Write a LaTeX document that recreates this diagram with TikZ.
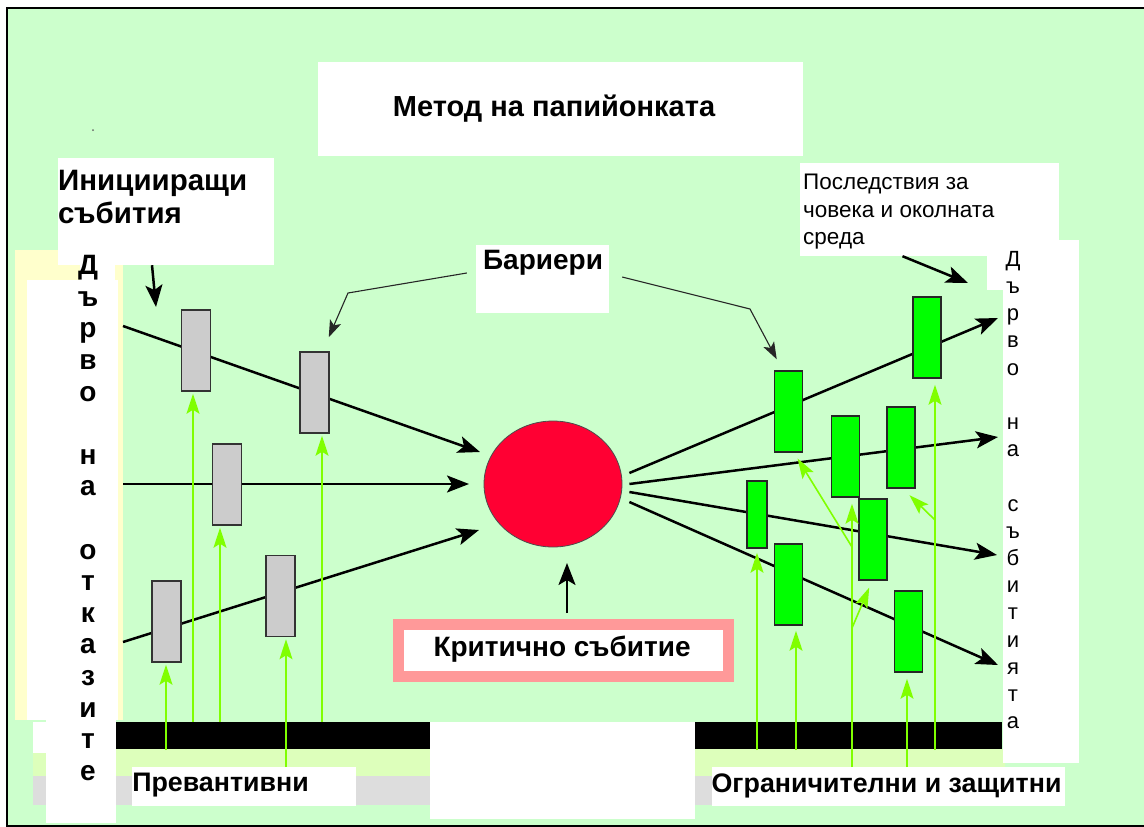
\documentclass[tikz,border=0pt]{standalone}
\usepackage{fontspec}
\setmainfont{Liberation Sans}
\usetikzlibrary{arrows.meta,shapes.geometric}

\definecolor{bggreen}{HTML}{CCFFCC}
\definecolor{paleyellow}{HTML}{FFFFCC}
\definecolor{paleband}{HTML}{DDFFBB}
\definecolor{grayband}{HTML}{DDDDDD}
\definecolor{barriergray}{HTML}{CCCCCC}
\definecolor{barriergreen}{HTML}{00FF00}
\definecolor{eventred}{HTML}{FF0033}
\definecolor{critpink}{HTML}{FF9999}
\definecolor{arrowgreen}{HTML}{80FF00}

\newcommand{\bowtitle}{\fontsize{29}{34}\selectfont\bfseries}
\newcommand{\bowlabel}{\fontsize{28}{33}\selectfont\bfseries}
\newcommand{\bowinit}{\fontsize{29.5}{32.5}\selectfont\bfseries}
\newcommand{\bowfoot}{\fontsize{26.8}{31}\selectfont\bfseries}
\newcommand{\bownote}{\fontsize{22.5}{27.5}\selectfont}
\newcommand{\bowleft}{\fontsize{28}{31.6}\selectfont\bfseries}
\newcommand{\bowright}{\fontsize{22}{27.2}\selectfont}

\tikzset{
  whitebox/.style={fill=white, inner sep=0},
  mainarrow/.style={line width=2.5pt, -{Stealth[length=22pt,width=17pt,inset=5pt]}},
  leadarrow/.style={line width=1.1pt, draw=black!85, -{Stealth[length=17pt,width=12pt,inset=4pt]}},
  garrow/.style={line width=1.6pt, draw=arrowgreen, shorten >=2pt, -{Stealth[length=20pt,width=13pt,inset=4pt]}},
  graybar/.style={draw=black!80, line width=1.5pt, fill=barriergray, minimum width=29pt, minimum height=81pt, inner sep=0},
  greenbar/.style={draw=black!85, line width=1.5pt, fill=barriergreen, minimum width=28pt, minimum height=81pt, inner sep=0}
}

\begin{document}
\begin{tikzpicture}[x=1pt,y=-1pt]
    \useasboundingbox (0,0) rectangle (1144,827);

    % Background and frame
    \fill[bggreen] (7,8) rectangle (1144,826);
    \draw[line width=1.3pt] (1144,8) -- (7,8) -- (7,826) -- (1144,826);
    \fill[black!60] (93,130) circle (1);

    % Left column behind the fault tree text
    \fill[paleyellow] (15,250) rectangle (123,720);
    \fill[white] (27,280) rectangle (118,720);
    \fill[white] (80,250) rectangle (115,280);

    % White boxes behind the labels
    \node[whitebox, minimum width=485pt, minimum height=94pt] (titleBox) at (560.5,109) {};
    \node[whitebox, minimum width=216pt, minimum height=107pt] (initBox) at (166,211.5) {};
    \node[whitebox, minimum width=133pt, minimum height=68pt] (barrBox) at (542.5,279) {};
    \node[whitebox, minimum width=259pt, minimum height=93pt] (conseqBox) at (929.5,209.5) {};

    % Bottom bands
    \fill[paleband] (33,749) rectangle (1005,776);
    \fill[grayband] (33,776) rectangle (1005,805);
    \fill[black] (116,722) rectangle (430,749);
    \fill[black] (695,722) rectangle (1002,749);
    \fill[white] (33,722) rectangle (116,753);
    \fill[white] (46,720) rectangle (116,823);
    \fill[white] (430,722) rectangle (695,819);
    \node[whitebox, minimum width=224pt, minimum height=39pt] (prevBox) at (244,786.5) {};
    \node[whitebox, minimum width=353pt, minimum height=39pt] (limitBox) at (888.5,786.5) {};

    % Right column behind the event tree text
    \fill[white] (987,240) rectangle (1079,290);
    \fill[white] (1003,288) rectangle (1079,763);

    % Critical event box
    \node[draw=critpink, line width=11pt, fill=white, minimum width=330pt, minimum height=52pt, inner sep=0] (crit) at (563.5,650.5) {};

    % Free ends of the main arrows
    \coordinate (fL1) at (123,326);
    \coordinate (fL2) at (123,484);
    \coordinate (fL3) at (123,642);
    \coordinate (tL1) at (480,452);
    \coordinate (tL2) at (469,484);
    \coordinate (tL3) at (479,530);
    \coordinate (tR1) at (998,318);
    \coordinate (tR2) at (998,437);
    \coordinate (tR3) at (997,555);
    \coordinate (tR4) at (998,665);

    % The critical event
    \node[ellipse, draw=black!70, line width=0.8pt, fill=eventred, minimum width=138pt, minimum height=126pt, inner sep=0] (event) at (553,484) {};

    % Causes and consequences
    \draw[mainarrow] (fL1) -- (tL1);
    \draw[mainarrow] (fL2) -- (tL2);
    \draw[mainarrow] (fL3) -- (tL3);
    \draw[mainarrow] ([shift={(7,-11)}]event.east) -- (tR1);
    \draw[mainarrow] ([shift={(7,0)}]event.east) -- (tR2);
    \draw[mainarrow] ([shift={(7,8)}]event.east) -- (tR3);
    \draw[mainarrow] ([shift={(7,18)}]event.east) -- (tR4);

    % Preventive barriers
    \node[graybar] (gb1) at (196,350.5) {};
    \node[graybar] (gb2) at (314.5,392.5) {};
    \node[graybar] (gb3) at (227,484.5) {};
    \node[graybar] (gb4) at (166.5,621.5) {};
    \node[graybar] (gb5) at (280.5,596) {};

    % Limiting and protective barriers
    \node[greenbar] (rb1) at (788.5,411.5) {};
    \node[greenbar] (rb2) at (845.5,456.5) {};
    \node[greenbar] (rb3) at (901,447.5) {};
    \node[greenbar] (rb4) at (927,337.5) {};
    \node[greenbar, minimum width=20pt, minimum height=67pt] (rb5) at (757,514.5) {};
    \node[greenbar] (rb6) at (788.5,584.5) {};
    \node[greenbar] (rb7) at (873,539.5) {};
    \node[greenbar] (rb8) at (908.5,631.5) {};

    % Green arrows, left
    \coordinate (pv1) at (166,750);
    \coordinate (pv2) at (193,722);
    \coordinate (pv3) at (220,722);
    \coordinate (pv4) at (286,767);
    \coordinate (pv5) at (322,722);
    \draw[garrow] (pv1) -- (pv1 |- gb4.south);
    \draw[garrow] (pv2) -- (pv2 |- gb1.south);
    \draw[garrow] (pv3) -- (pv3 |- gb3.south);
    \draw[garrow] (pv4) -- (pv4 |- gb5.south);
    \draw[garrow] (pv5) -- (pv5 |- gb2.south);

    % Green arrows, right
    \coordinate (lm1) at (757,750);
    \coordinate (lm2) at (796,750);
    \coordinate (lm3) at (852,767);
    \coordinate (lm4) at (907,767);
    \coordinate (lm5) at (935,750);
    \coordinate (br1) at (852,547);
    \coordinate (br2) at (852,628);
    \coordinate (br3) at (935,520);
    \draw[garrow, shorten >=4pt] (lm1) -- (lm1 |- rb5.south);
    \draw[garrow, shorten >=5pt] (lm2) -- (lm2 |- rb6.south);
    \draw[garrow, shorten >=6pt] (lm3) -- (lm3 |- rb2.south);
    \draw[garrow, shorten >=6pt] (lm4) -- (lm4 |- rb8.south);
    \draw[garrow, shorten >=6pt] (lm5) -- (lm5 |- rb4.south);
    \draw[garrow] (br1) -- ([xshift=8pt,yshift=-4pt]rb1.south);
    \draw[garrow] (br2) -- ([xshift=-3pt,yshift=-5pt]rb7.south);
    \draw[garrow] (br3) -- ([xshift=7pt,yshift=-5pt]rb3.south);

    % Pointers from the labels
    \coordinate (initTip) at (156,307);
    \coordinate (conseqTip) at (968,283);
    \coordinate (critTip) at (567,563);
    \draw[mainarrow] ([xshift=-14pt]initBox.south) -- (initTip);
    \draw[mainarrow] ([xshift=-27pt]conseqBox.south) -- (conseqTip);
    \draw[mainarrow] ([shift={(3.5,-6)}]crit.north) -- (critTip);
    \draw[leadarrow] ([shift={(-9,-6)}]barrBox.west) -- (348,293) -- ([shift={(-1,-14)}]gb2.north east);
    \draw[leadarrow] ([shift={(13,-2)}]barrBox.east) -- (750,309) -- ([shift={(3,-11)}]rb1.north west);

    % Labels
    \node[font=\bowtitle] (title) at (554,109) {Метод на папийонката};
    \node[font=\bowinit, align=left, anchor=west, inner sep=0] (initEv) at (58,197) {Иницииращи\\събития};
    \node[font=\bowlabel] (barriers) at (543,263) {Бариери};
    \node[font=\bownote, align=left, anchor=west, inner sep=0] (conseq) at (803,212) {Последствия за\\човека и околната\\среда};
    \node[font=\bowlabel] (critText) at (562,649.5) {Критично събитие};
    \node[font=\bowfoot] (prev) at (220.5,785.5) {Превантивни};
    \node[font=\bowfoot] (limit) at (886.5,785.5) {Ограничителни и защитни};
    \node[font=\bowleft, align=center] (faultTree) at (88,518)
        {Д\\ъ\\р\\в\\о\\[31.6pt]н\\а\\[31.6pt]о\\т\\к\\а\\з\\и\\т\\е};
    \node[font=\bowright, align=center] (eventTree) at (1013,490)
        {Д\\ъ\\р\\в\\о\\[27.2pt]н\\а\\[27.2pt]с\\ъ\\б\\и\\т\\и\\я\\т\\а};

\end{tikzpicture}
\end{document}
